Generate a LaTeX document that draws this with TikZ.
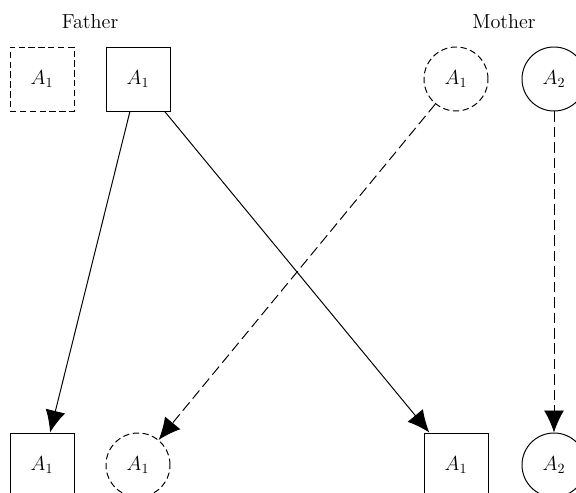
\documentclass[tikz,border=0pt]{standalone}
\usetikzlibrary{arrows.meta}

\begin{document}
\begin{tikzpicture}[
  font=\Large,
  line width=0.7pt,
  sq/.style={rectangle,draw=black,minimum size=1.6cm,inner sep=0pt},
  rd/.style={circle,draw=black,minimum size=1.6cm,inner sep=0pt},
  dsh/.style={dash pattern=on 4.5pt off 2.5pt},
  gene/.style={-{Latex[length=5.5mm,width=5mm]}},
  dgene/.style={gene,dash pattern=on 7.5pt off 3.5pt}
]

%SPACING
\useasboundingbox (0,0) rectangle (14.4,12.325);
%SPACING

\node[](father) at (2.25,11.775) {Father};
\node[](mother) at (12.6,11.775) {Mother};

\node[sq,dsh](f1) at (1.05,10.35) {$A_1$};
\node[sq](f2) at (3.45,10.35) {$A_1$};
\node[rd,dsh](m1) at (11.4,10.35) {$A_1$};
\node[rd](m2) at (13.85,10.35) {$A_2$};

\node[sq](c1) at (1.05,0.7) {$A_1$};
\node[rd,dsh](c2) at (3.45,0.7) {$A_1$};
\node[sq](c3) at (11.4,0.7) {$A_1$};
\node[rd](c4) at (13.85,0.7) {$A_2$};

\draw[gene] (f2) -- (c1);
\draw[gene] (f2) -- (c3);

\draw[dgene] (m1) -- (c2);
\draw[dgene] (m2) -- (c4);

\end{tikzpicture}
\end{document}
